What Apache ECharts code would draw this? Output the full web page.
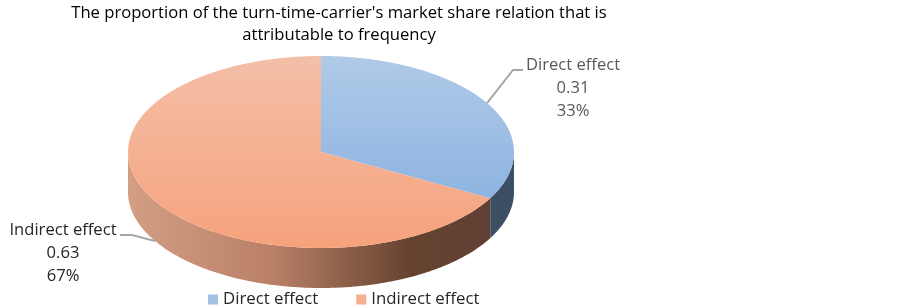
<!DOCTYPE html>
<html lang="en" style="height: 100%">
    <head>
        <meta charset="utf-8" />
    </head>
    <body style="height: 100%; margin: 0; background: #fff">
        <div id="container" style="width: 903px; height: 307px"></div>

        <script
            type="text/javascript"
            src="https://fastly.jsdelivr.net/npm/echarts@6/dist/echarts.min.js"
        ></script>

        <script type="text/javascript">
            var categories = ['Direct effect', 'Indirect effect'];
            var effectValues = [0.31, 0.63];
            var percentLabels = ['33%', '67%'];

            var total = effectValues[0] + effectValues[1];
            var FONT = '"Open Sans", sans-serif';

            // the tilted disc
            var cx = 321, cy = 152, rx = 193, ry = 96, depth = 40;

            function pt(a, dy) {
                return [cx + rx * Math.sin(a), cy - ry * Math.cos(a) + (dy || 0)];
            }
            function arc(a0, a1, dy) {
                var n = Math.max(2, Math.ceil((a1 - a0) / 0.01));
                var out = [];
                for (var i = 0; i <= n; i++) {
                    out.push(pt(a0 + ((a1 - a0) * i) / n, dy));
                }
                return out;
            }
            function vGrad(c0, c1) {
                return new echarts.graphic.LinearGradient(0, 0, 0, 1, [
                    { offset: 0, color: c0 },
                    { offset: 1, color: c1 },
                ]);
            }
            function hGrad(stops) {
                return new echarts.graphic.LinearGradient(0, 0, 1, 0, stops);
            }

            var looks = [
                {
                    top: ['#b0cae7', '#8eb4e2'],
                    side: [
                        { offset: 0, color: '#3e4e60' },
                        { offset: 1, color: '#3c4f66' },
                    ],
                    labelColor: '#595959',
                    labelX: 573,
                    labelY: 88,
                    elbow: [513, 70],
                    end: [523, 70],
                },
                {
                    top: ['#f3bfa8', '#f6a27c'],
                    side: [
                        { offset: 0, color: '#d39e84' },
                        { offset: 0.4, color: '#b98067' },
                        { offset: 0.78, color: '#65432f' },
                        { offset: 1, color: '#604034' },
                    ],
                    labelColor: '#262626',
                    labelX: 63,
                    labelY: 253,
                    elbow: [132, 235],
                    end: [120, 235],
                },
            ];

            function renderSlice(params, api) {
                var i = params.seriesIndex;
                var look = looks[i];
                var start = i === 0 ? 0 : (effectValues[0] / total) * 2 * Math.PI;
                var end = start + (api.value(0) / total) * 2 * Math.PI;
                var mid = (start + end) / 2;
                var children = [];

                // only the front half of the wall can be seen
                var s0 = Math.max(start, Math.PI / 2);
                var s1 = Math.min(end, (3 * Math.PI) / 2);
                if (s1 > s0) {
                    children.push({
                        type: 'polygon',
                        shape: {
                            points: arc(s0, s1, 0).concat(arc(s0, s1, depth).reverse()),
                        },
                        style: { fill: hGrad(look.side) },
                    });
                }
                children.push({
                    type: 'polygon',
                    shape: { points: [[cx, cy]].concat(arc(start, end, 0)) },
                    style: { fill: vGrad(look.top[0], look.top[1]) },
                });

                // leader line starts on the outer edge at the middle of the slice
                var front = Math.cos(mid) < 0;
                children.push({
                    type: 'polyline',
                    shape: { points: [pt(mid, front ? depth : 0), look.elbow, look.end] },
                    style: { fill: 'none', stroke: '#a6a6a6', lineWidth: 2 },
                    z2: 5,
                });
                children.push({
                    type: 'text',
                    style: {
                        text:
                            categories[i] +
                            '\n' +
                            api.value(0).toFixed(2) +
                            '\n' +
                            percentLabels[i],
                        x: look.labelX,
                        y: look.labelY,
                        align: 'center',
                        verticalAlign: 'middle',
                        font: '16.6px ' + FONT,
                        lineHeight: 23,
                        fill: look.labelColor,
                    },
                    z2: 6,
                });
                return { type: 'group', children: children };
            }

            var myChart = echarts.init(document.getElementById('container'), null, {
                renderer: 'canvas',
            });

            var option = {
                animation: false,
                title: {
                    text: "The proportion of the turn-time-carrier's market share relation that is\nattributable to frequency",
                    left: 339,
                    top: 2,
                    padding: [0, 0, 0, 0],
                    textAlign: 'center',
                    textStyle: {
                        fontFamily: FONT,
                        fontSize: 16.6,
                        fontWeight: 'normal',
                        color: '#000',
                        lineHeight: 22,
                    },
                },
                legend: {
                    data: categories,
                    left: 203,
                    top: 286,
                    icon: 'rect',
                    itemWidth: 10,
                    itemHeight: 10,
                    itemGap: 38,
                    selectedMode: false,
                    textStyle: { fontFamily: FONT, fontSize: 16.8, color: '#262626' },
                },
                series: categories.map(function (name, i) {
                    return {
                        name: name,
                        type: 'custom',
                        coordinateSystem: 'none',
                        renderItem: renderSlice,
                        itemStyle: { color: i === 0 ? '#a3c0e5' : '#f5ae90' },
                        data: [[effectValues[i]]],
                        silent: true,
                    };
                }),
            };
            myChart.setOption(option);

            window.addEventListener('resize', myChart.resize);
        </script>
    </body>
</html>
